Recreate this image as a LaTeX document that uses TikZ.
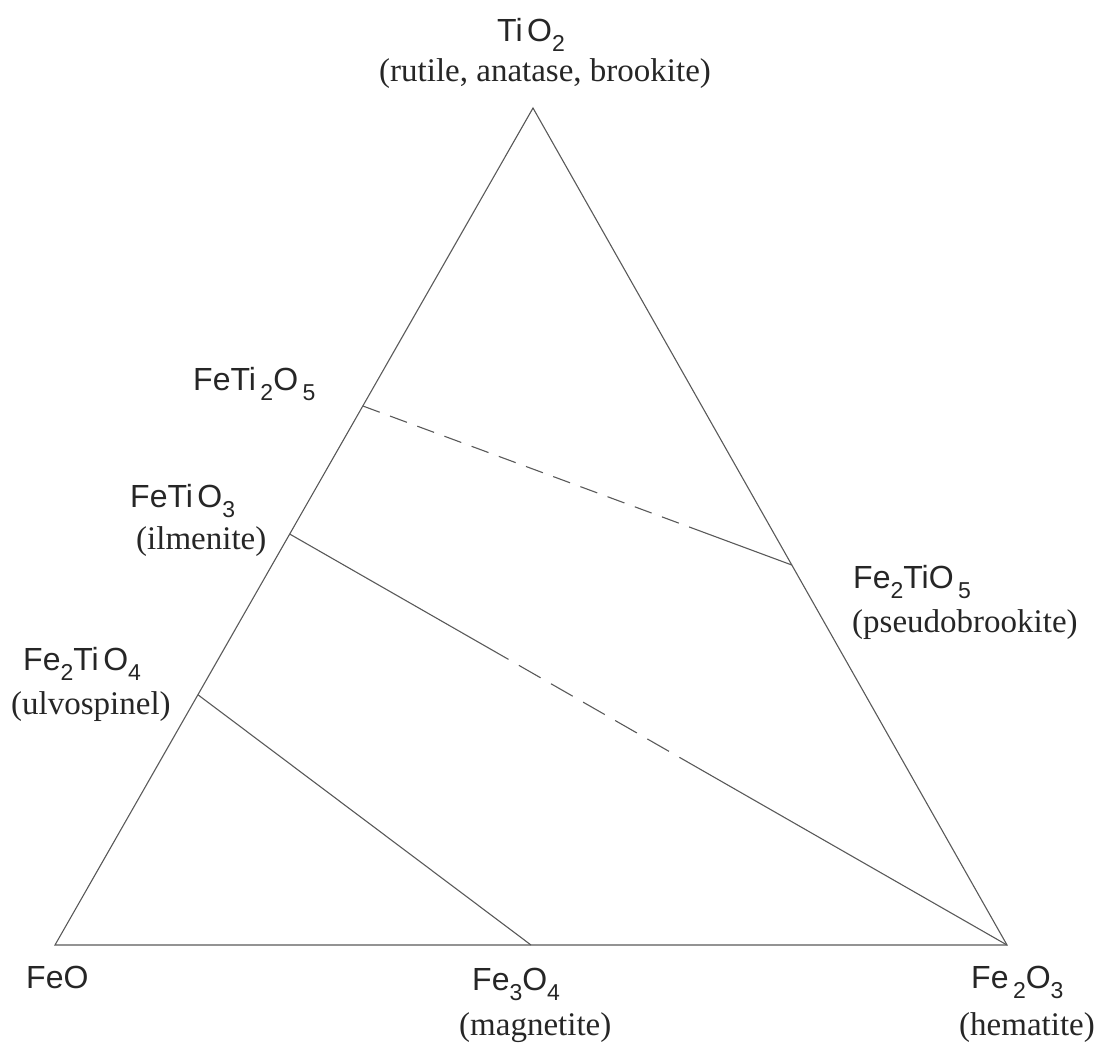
\documentclass[tikz,border=0pt]{standalone}
\usepackage{fontspec}
\setmainfont{Liberation Serif}
\newfontfamily\formfont{Liberation Sans}
\usetikzlibrary{calc}
\newcommand{\chsub}[1]{\raisebox{-0.33em}{\fontsize{23}{23}\selectfont #1}}
\newcommand{\lgap}{\hspace{0.14em}}
\begin{document}
\begin{tikzpicture}[x=1pt,y=-1pt,
  edge/.style={draw=black!65, line width=1.1pt},
  dashA/.style={edge, dash pattern=on 18pt off 11pt},
  dashB/.style={edge, dash pattern=on 25pt off 12pt, dash phase=25pt},
  formula/.style={font=\formfont\fontsize{32}{32}\selectfont, text=black!85, inner sep=0pt, anchor=base west},
  mineral/.style={font=\fontsize{33}{33}\selectfont, text=black!85, inner sep=0pt, anchor=base west}]
\useasboundingbox (0,0) rectangle (1099,1044);
% vertices
\coordinate (FeO) at (55,945);
\coordinate (Fe2O3) at (1007,945);
\coordinate (TiO2) at (533,108);
% points on the sides
\coordinate (FeTi2O5) at ($(FeO)!0.644!(TiO2)$);
\coordinate (FeTiO3) at ($(FeO)!0.491!(TiO2)$);
\coordinate (Fe2TiO4) at ($(FeO)!0.299!(TiO2)$);
\coordinate (Fe2TiO5) at ($(Fe2O3)!0.454!(TiO2)$);
\coordinate (Fe3O4) at ($(FeO)!0.5!(Fe2O3)$);
% break points
\coordinate (pb1) at ($(FeTi2O5)!0.788!(Fe2TiO5)$);
\coordinate (il1) at ($(FeTiO3)!0.305!(Fe2O3)$);
\coordinate (il2) at ($(FeTiO3)!0.551!(Fe2O3)$);
% triangle
\draw[edge, line join=miter] (FeO) -- (Fe2O3) -- (TiO2) -- cycle;
% tie lines
\draw[dashA] (FeTi2O5) -- (pb1);
\draw[edge] (pb1) -- (Fe2TiO5);
\draw[edge] (FeTiO3) -- (il1);
\draw[dashB] (il1) -- (il2);
\draw[edge] (il2) -- (Fe2O3);
\draw[edge] (Fe2TiO4) -- (Fe3O4);
% labels
\node[formula] (lTiO2) at (497,41) {Ti\lgap O\chsub{2}};
\node[mineral] (mTiO2) at (379,81) {(rutile, anatase, brookite)};
\node[formula] (lFeTi2O5) at (193,390) {FeTi\lgap\chsub{2}O\lgap\chsub{5}};
\node[formula] (lFeTiO3) at (130,507) {FeTi\lgap O\chsub{3}};
\node[mineral] (mFeTiO3) at (136,549) {(ilmenite)};
\node[formula] (lFe2TiO4) at (23,670) {Fe\chsub{2}Ti\lgap O\chsub{4}};
\node[mineral] (mFe2TiO4) at (11,714) {(ulvospinel)};
\node[formula] (lFe2TiO5) at (853,588) {Fe\chsub{2}TiO\lgap\chsub{5}};
\node[mineral] (mFe2TiO5) at (852,632) {(pseudobrookite)};
\node[formula] (lFeO) at (26,988) {FeO};
\node[formula] (lFe3O4) at (472,990) {Fe\chsub{3}O\chsub{4}};
\node[mineral] (mFe3O4) at (459,1035) {(magnetite)};
\node[formula] (lFe2O3) at (971,988) {Fe\lgap\chsub{2}O\chsub{3}};
\node[mineral] (mFe2O3) at (959,1035) {(hematite)};
\end{tikzpicture}
\end{document}
